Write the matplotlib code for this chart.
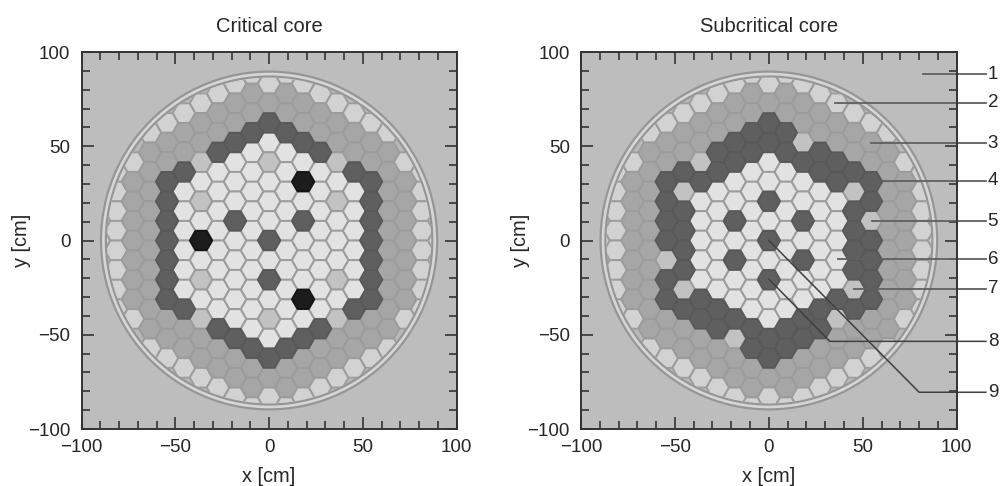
import numpy as np
import matplotlib
matplotlib.use("Agg")
import matplotlib.pyplot as plt
from matplotlib.patches import RegularPolygon, Circle

plt.rcParams['font.family'] = ['Liberation Sans', 'DejaVu Sans']

# Assembly type per lattice column. Even columns run from row +8 to -8,
# odd columns from row +8.5 to -8.5. '.' means no assembly.
critical_columns = {
    -10: "........L........",
    -9: ".....LLLLLLLL.....",
    -8: "....LMMMMMMML....",
    -7: "...LMMMMMMMMMML...",
    -6: "..LMMDDDDDDDMML..",
    -5: "..LMMDWWWWWWDMML..",
    -4: ".LMMSWSWBWSWSMML.",
    -3: ".LMMDWWWWWWWWDMML.",
    -2: "LMMDWWWDWWWWWDMML",
    -1: "LMMDWWWWWWWWWWDMML",
    0: "LMDWSWWWDWDWSWDML",
    1: "LMMDWWWWWWWWWWDMML",
    2: "LMMDWBWDWWWBWDMML",
    3: ".LMMDWWWWWWWWDMML.",
    4: ".LMMSWSWWWSWSMML.",
    5: "..LMMDWWWWWWDMML..",
    6: "..LMMDDDDDDDMML..",
    7: "...LMMMMMMMMMML...",
    8: "....LMMMMMMML....",
    9: ".....LLLLLLLL.....",
    10: "........L........",
}
subcritical_columns = {
    -10: "........L........",
    -9: ".....LLLLLLLL.....",
    -8: "....LMMMMMMML....",
    -7: "...LMMMMMMMMMML...",
    -6: "..LMMDDDDSDDMML..",
    -5: "..LMMDSDDDDSDMML..",
    -4: ".LMMSDWWWWWDDMML.",
    -3: ".LMMDDWWWWWWDDMML.",
    -2: "LMMDDWWDWDWWDSMML",
    -1: "LMMDDWWWWWWWWDDMML",
    0: "LMDDWWDWDWDWWDDML",
    1: "LMMDDWWWWWWWWDDMML",
    2: "LMMSDWWDWDWWDDMML",
    3: ".LMMDDWWWWWWDDMML.",
    4: ".LMMDDWWWWWDSMML.",
    5: "..LMMDSDDDDSDMML..",
    6: "..LMMDDSDDDDMML..",
    7: "...LMMMMMMMMMML...",
    8: "....LMMMMMMML....",
    9: ".....LLLLLLLL.....",
    10: "........L........",
}
type_colors = {
    "W": "#e2e2e2", "S": "#c2c2c2", "L": "#d2d2d2",
    "M": "#a6a6a6", "D": "#5f5f5f", "B": "#1c1c1c",
}
edge_colors = {"D": "#585858", "B": "#141414"}

titles = ["Critical core", "Subcritical core"]
ticks_major = [-100, -50, 0, 50, 100]
ticks_minor = list(range(-100, 101, 10))

# Leader lines of the right panel, in cm
LEAD_END = 115.5
leader_labels = ["1", "2", "3", "4", "5", "6", "7", "8", "9"]
leader_paths = [
    [(82, 88.3), (LEAD_END, 88.3)],
    [(35, 73), (LEAD_END, 73)],
    [(54.4, 51.7), (LEAD_END, 51.7)],
    [(54.4, 31.6), (LEAD_END, 31.6)],
    [(55, 10.3), (LEAD_END, 10.3)],
    [(36.8, -10), (LEAD_END, -10)],
    [(45.3, -25.7), (LEAD_END, -25.7)],
    [(0, -20.5), (32.5, -53.5), (LEAD_END, -53.5)],
    [(0, 0), (80, -80.5), (LEAD_END, -80.5)],
]

COL_PITCH = 9.07
ROW_PITCH = 10.4
HEX_R = 5.95
RING_OUT = 89.6
RING_IN = 87.0

W, H = 1000, 486
fig = plt.figure(figsize=(W / 100, H / 100), dpi=100, facecolor="white")
boxes = [(81.5, 456.7), (581.0, 956.7)]
TOP, BOTTOM = 52.0, 429.0
BG = "#bdbdbd"
INK = "#333333"
TXT = "#262626"


def draw_core(ax, columns):
    ax.set_facecolor(BG)
    ax.add_patch(Circle((0, 0), RING_OUT, fc="#d6d6d6", ec="#969696", lw=1.6, zorder=1))
    inner = Circle((0, 0), RING_IN, fc="#b9b9b9", ec="#969696", lw=1.6, zorder=1.5)
    ax.add_patch(inner)
    clip = Circle((0, 0), RING_IN - 0.6, transform=ax.transData)
    for k, col in columns.items():
        top = 8.0 if k % 2 == 0 else 8.5
        for i, code in enumerate(col):
            if code == ".":
                continue
            hx = RegularPolygon((k * COL_PITCH, (top - i) * ROW_PITCH), 6, radius=HEX_R,
                                orientation=np.pi / 6, fc=type_colors[code],
                                ec=edge_colors.get(code, "#9c9c9c"), lw=1.3,
                                zorder=3 if code in "DB" else 2)
            ax.add_patch(hx)
            hx.set_clip_path(clip)


axes = []
for (x0, x1), title, columns in zip(boxes, titles, [critical_columns, subcritical_columns]):
    ax = fig.add_axes([x0 / W, 1 - BOTTOM / H, (x1 - x0) / W, (BOTTOM - TOP) / H])
    draw_core(ax, columns)
    ax.set_xlim(-100, 100)
    ax.set_ylim(-100, 100)
    ax.set_xticks(ticks_major)
    ax.set_yticks(ticks_major)
    ax.set_xticks(ticks_minor, minor=True)
    ax.set_yticks(ticks_minor, minor=True)
    ax.tick_params(which="major", direction="in", length=8.6, width=1.2, color=INK,
                   top=True, right=True, labelsize=13.5, labelcolor=TXT)
    ax.tick_params(which="minor", direction="in", length=5.6, width=1.2, color=INK,
                   top=True, right=True)
    ax.tick_params(axis="x", which="major", pad=7)
    ax.tick_params(axis="y", which="major", pad=8)
    for s in ax.spines.values():
        s.set_linewidth(1.4)
        s.set_color(INK)
        s.set_zorder(6)
    ax.set_xlabel("x [cm]", fontsize=14.4, color=TXT, va="center")
    ax.xaxis.set_label_coords(0.5, -0.127)
    ax.set_ylabel("y [cm]", fontsize=14.4, color=TXT, va="center")
    ax.yaxis.set_label_coords(-0.16, 0.5)
    ax.set_title(title, fontsize=14.5, color=TXT, pad=14.5)
    axes.append(ax)

ax = axes[1]
for label, path in zip(leader_labels, leader_paths):
    xs, ys = zip(*path)
    elbow = len(path) == 3
    ax.plot(xs, ys, color="#404040" if elbow else "#606060", lw=1.1 if elbow else 1.3,
            clip_on=False, zorder=5, solid_joinstyle="miter")
    ax.text(xs[-1] + 1.0, ys[-1], label, fontsize=13.5, color=TXT,
            ha="left", va="center", clip_on=False)

fig.savefig("out.png", dpi=100, facecolor="white")
